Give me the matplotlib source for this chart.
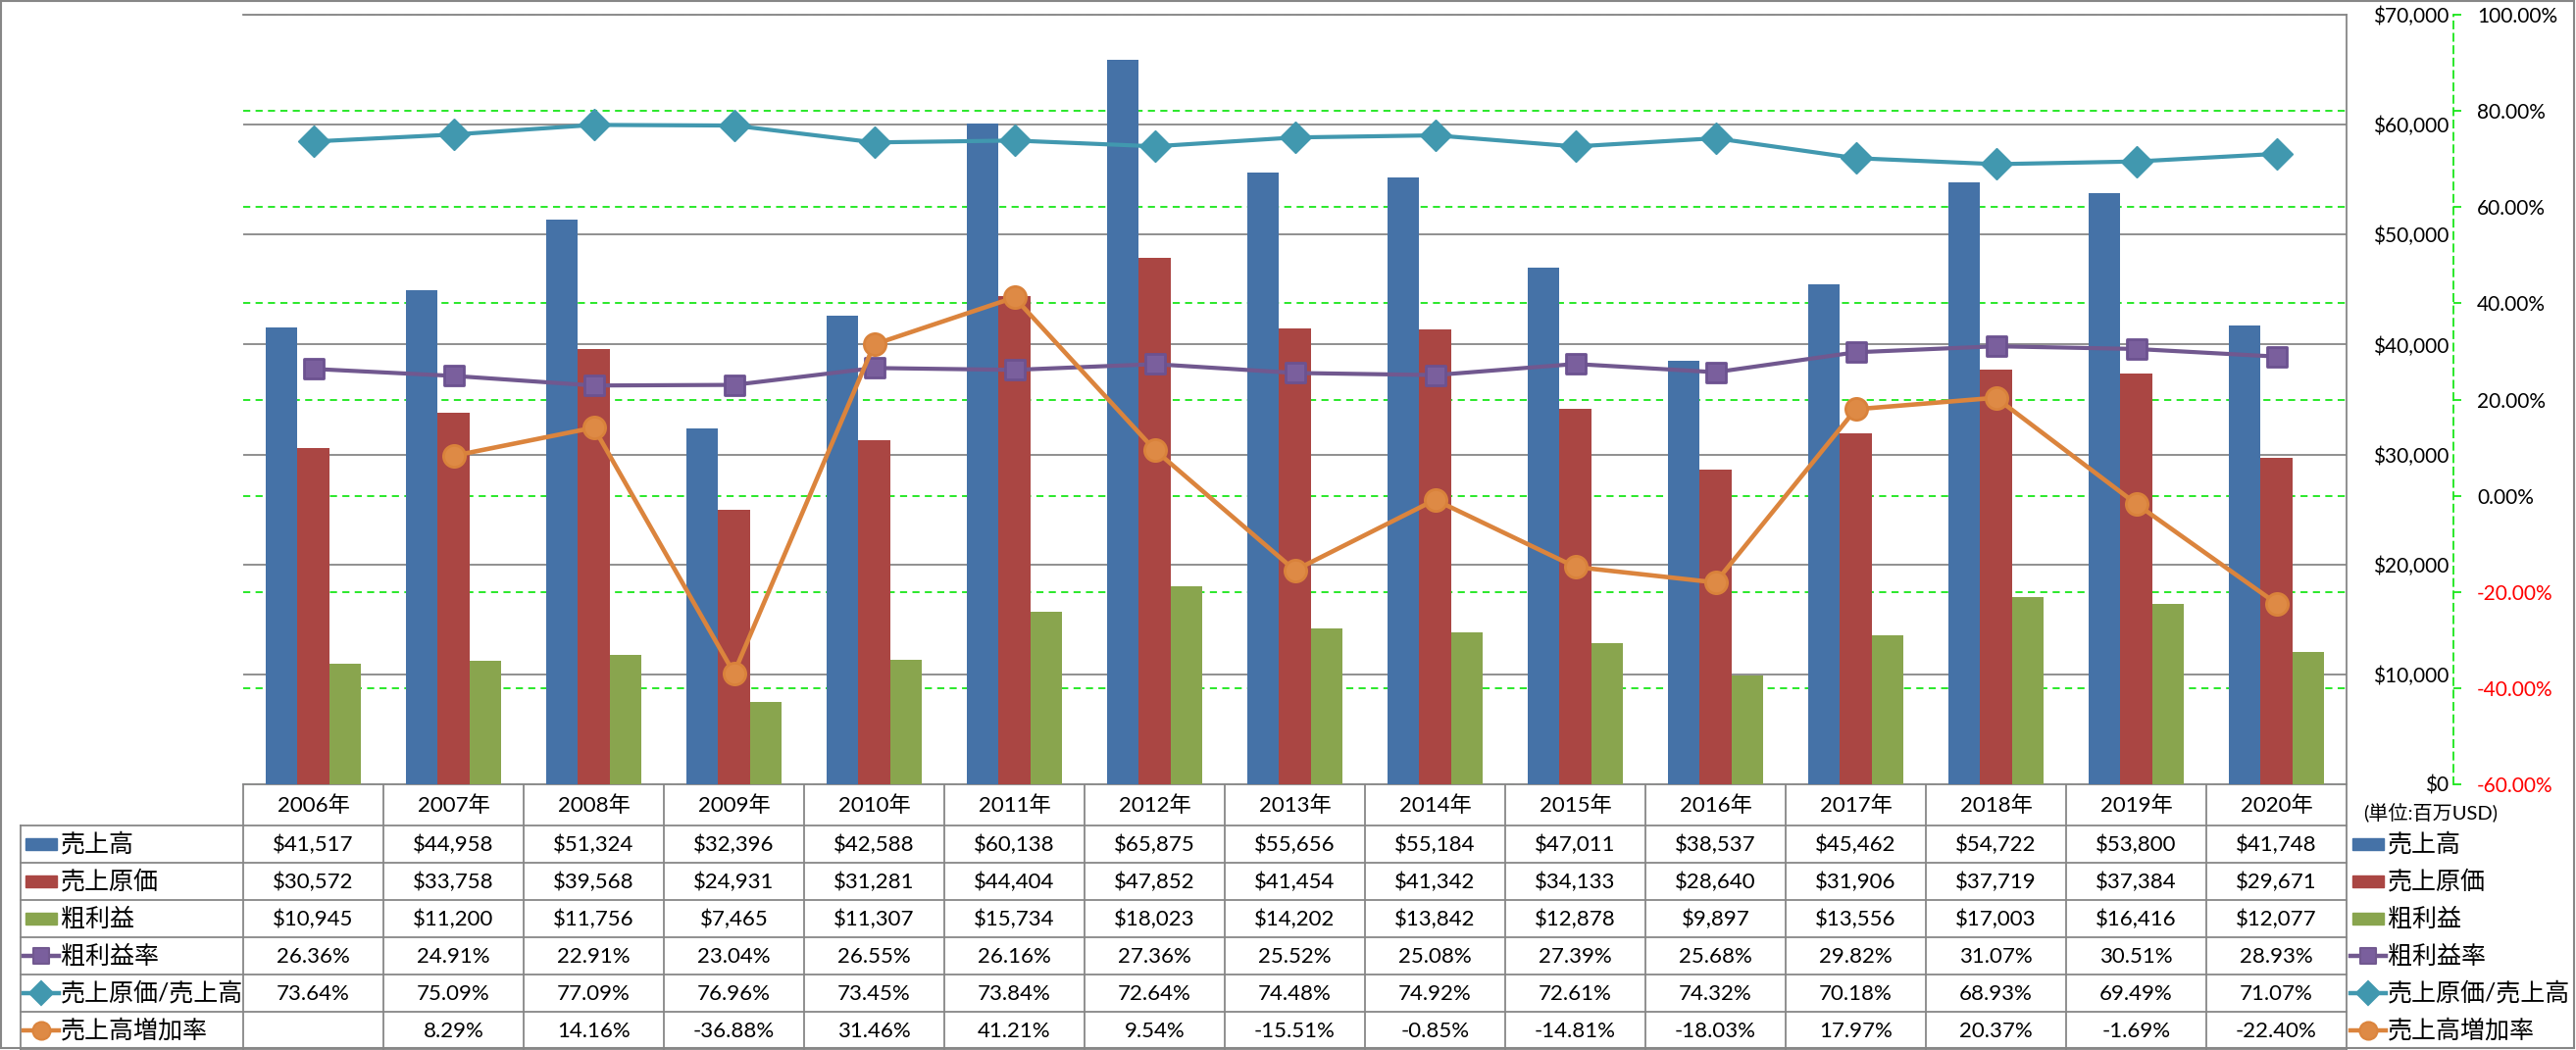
import numpy as np
import matplotlib
matplotlib.use("Agg")
import matplotlib.pyplot as plt
from matplotlib.markers import MarkerStyle
from matplotlib.patches import Rectangle

plt.rcParams['font.family'] = ['Lato', 'Noto Sans CJK JP', 'DejaVu Sans']

# ---------------- data ----------------
years = [2006, 2007, 2008, 2009, 2010, 2011, 2012, 2013, 2014, 2015, 2016, 2017, 2018, 2019, 2020]
categories = [f"{y}年" for y in years]
sales = [41517, 44958, 51324, 32396, 42588, 60138, 65875, 55656, 55184, 47011, 38537, 45462, 54722, 53800, 41748]
cost = [30572, 33758, 39568, 24931, 31281, 44404, 47852, 41454, 41342, 34133, 28640, 31906, 37719, 37384, 29671]
gross = [10945, 11200, 11756, 7465, 11307, 15734, 18023, 14202, 13842, 12878, 9897, 13556, 17003, 16416, 12077]
gross_rate = [26.36, 24.91, 22.91, 23.04, 26.55, 26.16, 27.36, 25.52, 25.08, 27.39, 25.68, 29.82, 31.07, 30.51, 28.93]
cost_ratio = [73.64, 75.09, 77.09, 76.96, 73.45, 73.84, 72.64, 74.48, 74.92, 72.61, 74.32, 70.18, 68.93, 69.49, 71.07]
growth = [np.nan, 8.29, 14.16, -36.88, 31.46, 41.21, 9.54, -15.51, -0.85, -14.81, -18.03, 17.97, 20.37, -1.69, -22.40]

names = ["売上高", "売上原価", "粗利益", "粗利益率", "売上原価/売上高", "売上高増加率"]
y1_ticks = [0, 10000, 20000, 30000, 40000, 50000, 60000, 70000]
y2_ticks = [-60, -40, -20, 0, 20, 40, 60, 80, 100]
unit_label = "(単位:百万USD)"

# ---------------- styles ----------------
C_BLUE, C_RED, C_GREEN = '#4572A7', '#AA4643', '#89A54E'
C_PURPLE, C_TEAL, C_ORANGE = '#71588F', '#4198AF', '#DB843D'
GRAY = '#878787'
GGRID = '#19E619'

W, H = 2627, 1071
fig = plt.figure(figsize=(W / 100, H / 100), dpi=100)
PX = 0.72  # points per pixel

L, T, R, B = 248, 15, 2393, 800


def rect(l, t, r, b):
    return [l / W, 1 - b / H, (r - l) / W, (b - t) / H]


n = len(years)
x = np.arange(n)

# --- base axes: secondary grid + secondary axis
ax0 = fig.add_axes(rect(L, T, R, B), zorder=1)
ax0.set_xlim(-0.5, n - 0.5)
ax0.set_ylim(-60, 100)
ax0.set_yticks(y2_ticks)
ax0.set_yticklabels([f"{v:.2f}%" for v in y2_ticks])
ax0.set_xticks([])
ax0.grid(axis='y', color=GGRID, ls=(0, (4, 3)), lw=1.3)
for s in ['left', 'top', 'bottom']:
    ax0.spines[s].set_visible(False)
ax0.spines['right'].set_position(('outward', 109 * PX))
ax0.spines['right'].set_color(GGRID)
ax0.spines['right'].set_linestyle((0, (4, 3)))
ax0.spines['right'].set_linewidth(1.3)
ax0.yaxis.tick_right()
ax0.tick_params(axis='y', direction='out', length=8 * PX, width=1.3, color=GGRID,
                pad=16 * PX, labelsize=15)
for v, t in zip(y2_ticks, ax0.get_yticklabels()):
    t.set_color('#FF0000' if v < 0 else 'black')

# --- primary axes: bars
ax = fig.add_axes(rect(L, T, R, B), zorder=2)
ax.patch.set_visible(False)
ax.set_xlim(-0.5, n - 0.5)
ax.set_ylim(0, 70000)
ax.set_yticks(y1_ticks)
ax.set_yticklabels([f"${v:,}" for v in y1_ticks])
ax.set_xticks([])
ax.grid(axis='y', color=GRAY, lw=1.3)
ax.set_axisbelow(True)
ax.spines['left'].set_visible(False)
for s in ['right', 'top', 'bottom']:
    ax.spines[s].set_color(GRAY)
    ax.spines[s].set_linewidth(1.3)
ax.yaxis.tick_right()
ax.tick_params(axis='y', length=0, pad=104 * PX, labelsize=15)
for t in ax.get_yticklabels():
    t.set_horizontalalignment('right')

bw = 0.224
ax.bar(x - bw, sales, bw, color=C_BLUE, zorder=3)
ax.bar(x, cost, bw, color=C_RED, zorder=3)
ax.bar(x + bw, gross, bw, color=C_GREEN, zorder=3)

# --- line axes
ax2 = fig.add_axes(rect(L, T, R, B), zorder=3)
ax2.patch.set_visible(False)
ax2.set_xlim(-0.5, n - 0.5)
ax2.set_ylim(-60, 100)
ax2.axis('off')

sq = MarkerStyle('s', joinstyle='round')
ax2.plot(x, gross_rate, color=C_PURPLE, lw=3.0, marker=sq, ms=14, mfc='#7A5F9D',
         mec='#6C5290', mew=2)
ax2.plot(x, cost_ratio, color=C_TEAL, lw=3.0, marker='D', ms=16.5, mfc=C_TEAL,
         mec=C_TEAL, mew=1)
ax2.plot(x, growth, color=C_ORANGE, lw=3.3, marker='o', ms=16, mfc='#DE8A45',
         mec='#D9823B', mew=2)

# --- overlay for data table and legend
axT = fig.add_axes([0, 0, 1, 1], zorder=4)
axT.patch.set_visible(False)
axT.set_xlim(0, W)
axT.set_ylim(H, 0)
axT.axis('off')

colw = (R - L) / n
xb = [L + i * colw for i in range(n + 1)]
row_y = [842 + 38 * k for k in range(7)]
LW = 1.3

# header verticals
for xv in xb:
    axT.plot([xv, xv], [B, row_y[-1]], color=GRAY, lw=LW)
axT.plot([21, 21], [row_y[0], row_y[-1]], color=GRAY, lw=LW)
for yv in row_y:
    axT.plot([21, R], [yv, yv], color=GRAY, lw=LW)

for i, c in enumerate(categories):
    axT.text(xb[i] + colw / 2, (B + row_y[0]) / 2 + 1, c, ha='center', va='center', fontsize=16)

rows = [
    [f"${v:,}" for v in sales],
    [f"${v:,}" for v in cost],
    [f"${v:,}" for v in gross],
    [f"{v:.2f}%" for v in gross_rate],
    [f"{v:.2f}%" for v in cost_ratio],
    ["" if np.isnan(v) else f"{v:.2f}%" for v in growth],
]
for r, vals in enumerate(rows):
    yc = (row_y[r] + row_y[r + 1]) / 2 + 1
    for i, s in enumerate(vals):
        axT.text(xb[i] + colw / 2, yc, s, ha='center', va='center', fontsize=16)


def legend_key(x0, yc, k):
    if k == 0:
        axT.add_patch(Rectangle((x0, yc - 6), 32, 12, color=C_BLUE))
    elif k == 1:
        axT.add_patch(Rectangle((x0, yc - 6), 32, 12, color=C_RED))
    elif k == 2:
        axT.add_patch(Rectangle((x0, yc - 6), 32, 12, color=C_GREEN))
    else:
        col, mk, ms, mfc = [(C_PURPLE, sq, 11, '#7A5F9D'), (C_TEAL, 'D', 12, C_TEAL),
                            (C_ORANGE, 'o', 13, '#DE8A45')][k - 3]
        axT.plot([x0 - 2, x0 + 34], [yc, yc], color=col, lw=3.2)
        axT.plot([x0 + 16], [yc], marker=mk, ms=ms, mfc=mfc, mec=col, mew=1.5)


for r, nm in enumerate(names):
    yc = (row_y[r] + row_y[r + 1]) / 2
    legend_key(26, yc, r)
    axT.text(62, yc, nm, ha='left', va='center', fontsize=18)
    legend_key(2399, yc, r)
    axT.text(2435, yc, nm, ha='left', va='center', fontsize=18)

axT.text(2410, 829, unit_label, ha='left', va='center', fontsize=14.5)

# outer border
axT.add_patch(Rectangle((1, 1), W - 3, H - 3, fill=False, ec=GRAY, lw=1.5))

fig.savefig("out.png", dpi=100)
